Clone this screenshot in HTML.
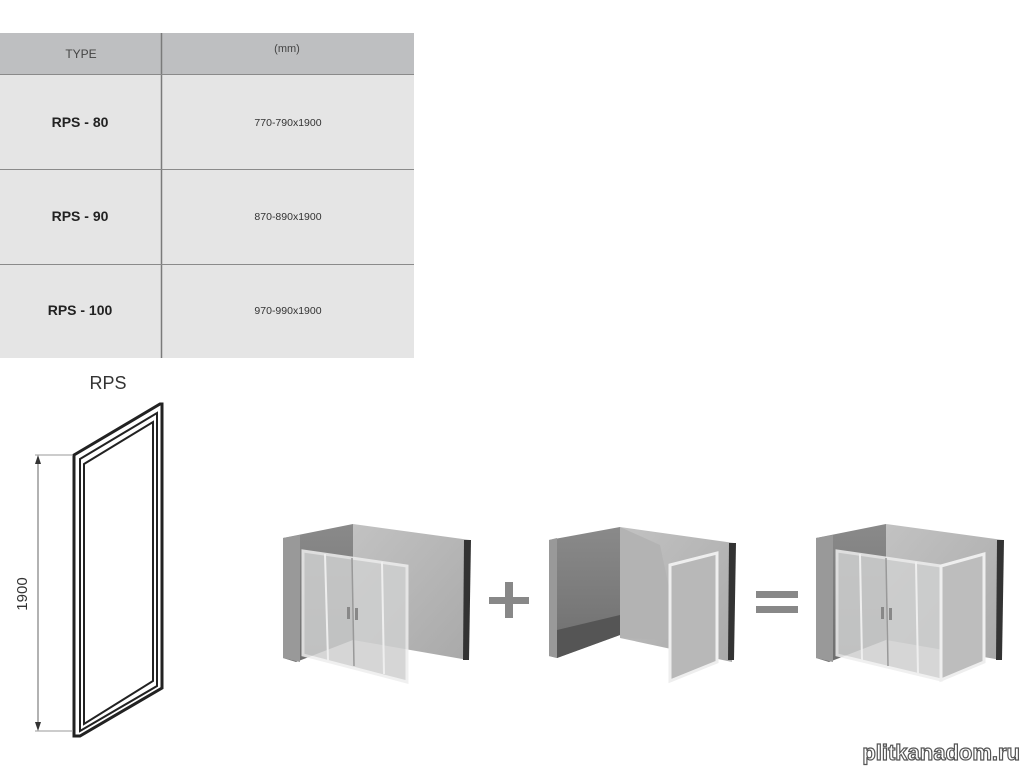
<!DOCTYPE html>
<html><head><meta charset="utf-8"><style>
html,body{margin:0;padding:0;background:#fff;width:1024px;height:768px;overflow:hidden}
svg{display:block}
text{font-family:"Liberation Sans",Arial,sans-serif}
</style></head><body>
<svg width="1024" height="768" viewBox="0 0 1024 768" xmlns="http://www.w3.org/2000/svg">
<defs>
<linearGradient id="bw" x1="0" y1="0" x2="1" y2="1"><stop offset="0" stop-color="#c2c2c2"/><stop offset="1" stop-color="#a9a9a9"/></linearGradient>
<linearGradient id="lw" x1="0" y1="0" x2="0" y2="1"><stop offset="0" stop-color="#8a8a8a"/><stop offset="1" stop-color="#6e6e6e"/></linearGradient>
</defs>
<!-- table -->
<rect x="0" y="33" width="414" height="41" fill="#bebfc1"/>
<rect x="0" y="74" width="414" height="284" fill="#e5e5e5"/>
<line x1="161.5" y1="33" x2="161.5" y2="358" stroke="#7a7a7a" stroke-width="1.5"/>
<line x1="0" y1="74.5" x2="414" y2="74.5" stroke="#8a8a8a"/>
<line x1="0" y1="169.5" x2="414" y2="169.5" stroke="#8a8a8a"/>
<line x1="0" y1="264.5" x2="414" y2="264.5" stroke="#8a8a8a"/>
<text x="81" y="58" font-size="12" fill="#444" text-anchor="middle">TYPE</text>
<text x="287" y="52" font-size="11" fill="#444" text-anchor="middle">(mm)</text>
<text x="80" y="127" font-size="14" font-weight="bold" fill="#222" text-anchor="middle">RPS - 80</text>
<text x="80" y="221" font-size="14" font-weight="bold" fill="#222" text-anchor="middle">RPS - 90</text>
<text x="80" y="315" font-size="14" font-weight="bold" fill="#222" text-anchor="middle">RPS - 100</text>
<text x="288" y="126" font-size="10.5" fill="#333" text-anchor="middle">770-790x1900</text>
<text x="288" y="220" font-size="10.5" fill="#333" text-anchor="middle">870-890x1900</text>
<text x="288" y="314" font-size="10.5" fill="#333" text-anchor="middle">970-990x1900</text>
<!-- RPS drawing -->
<text x="108" y="389" font-size="18" fill="#333" text-anchor="middle">RPS</text>
<polygon points="74,455 160,404 162,404 162,688 80,736 74,736" fill="none" stroke="#222" stroke-width="3"/>
<polygon points="80,459 157,413 157,686 80,731" fill="none" stroke="#222" stroke-width="2"/>
<polygon points="84,464 153,422 153,681 84,724" fill="none" stroke="#222" stroke-width="2"/>
<line x1="35" y1="455" x2="73" y2="455" stroke="#999"/>
<line x1="35" y1="731" x2="73" y2="731" stroke="#999"/>
<line x1="38" y1="457" x2="38" y2="729" stroke="#666"/>
<polygon points="38,455 35,464 41,464" fill="#333"/>
<polygon points="38,731 35,722 41,722" fill="#333"/>
<text transform="translate(27,594) rotate(-90)" font-size="15" fill="#333" text-anchor="middle">1900</text>

<!-- group 1 -->
<g>
<polygon points="283,538 353,524 353,640 296,662 283,658" fill="url(#lw)"/>
<polygon points="283,538 300,535 300,662 283,658" fill="#999"/>
<polygon points="353,524 470,540 468,660 353,640" fill="url(#bw)"/>
<polygon points="464,540 471,540 469,660 463,660" fill="#333"/>
<polygon points="303,551 407,566 407,682 303,655" fill="#cfd0d0" opacity="0.85" stroke="#eee" stroke-width="3"/>
<line x1="325" y1="554" x2="328" y2="660" stroke="#eee" stroke-width="2"/>
<line x1="352" y1="558" x2="354" y2="666" stroke="#999" stroke-width="1.5"/>
<line x1="382" y1="562" x2="384" y2="674" stroke="#eee" stroke-width="2"/>
<rect x="347" y="607" width="3" height="12" fill="#888"/><rect x="355" y="608" width="3" height="12" fill="#888"/>
</g>
<!-- plus -->
<rect x="489" y="597" width="40" height="7" fill="#888"/>
<rect x="505" y="582" width="8" height="36" fill="#888"/>
<!-- group 2 -->
<g>
<polygon points="549,540 620,527 620,635 557,658 549,656" fill="url(#lw)"/>
<polygon points="549,540 557,538 557,658 549,656" fill="#999"/>
<polygon points="557,630 620,615 620,635 557,658" fill="#555"/>
<polygon points="620,527 734,543 732,662 620,638" fill="url(#bw)"/>
<polygon points="620,527 660,545 680,640 620,638" fill="#b3b3b3"/>
<polygon points="729,543 736,543 734,660 728,660" fill="#333"/>
<polygon points="670,565 717,553 717,662 670,681" fill="#b8b8b8" stroke="#eee" stroke-width="3"/>
</g>
<!-- equals -->
<rect x="756" y="591" width="42" height="7" fill="#888"/>
<rect x="756" y="606" width="42" height="7" fill="#888"/>
<!-- group 3 -->
<g>
<polygon points="816,538 886,524 886,640 829,662 816,658" fill="url(#lw)"/>
<polygon points="816,538 833,535 833,662 816,658" fill="#999"/>
<polygon points="886,524 1003,540 1001,660 886,640" fill="url(#bw)"/>
<polygon points="997,540 1004,540 1002,660 996,660" fill="#333"/>
<polygon points="837,551 941,566 941,680 837,655" fill="#cfd0d0" opacity="0.85" stroke="#eee" stroke-width="3"/>
<polygon points="941,566 984,554 984,662 941,680" fill="#bdbdbd" stroke="#eee" stroke-width="3"/>
<line x1="860" y1="554" x2="862" y2="660" stroke="#eee" stroke-width="2"/>
<line x1="886" y1="558" x2="888" y2="666" stroke="#999" stroke-width="1.5"/>
<line x1="916" y1="562" x2="918" y2="674" stroke="#eee" stroke-width="2"/>
<rect x="881" y="607" width="3" height="12" fill="#888"/><rect x="889" y="608" width="3" height="12" fill="#888"/>
</g>
<!-- watermark -->
<text x="1020" y="760" font-size="22" font-weight="bold" fill="#fff" stroke="#555" stroke-width="1.2" text-anchor="end" font-family="Liberation Mono,monospace">plitkanadom.ru</text>
</svg>
</body></html>
